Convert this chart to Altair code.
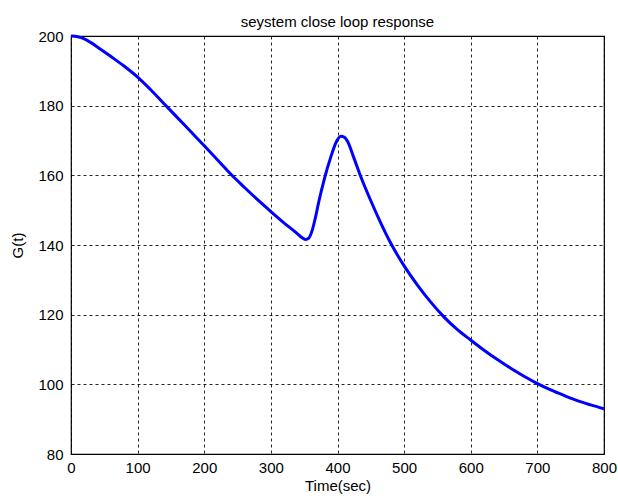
import altair as alt
import pandas as pd

t_vals = [0, 10, 20, 30, 40, 60, 80, 100, 120, 140, 160, 180, 200, 220, 240, 260, 280,
          300, 320, 340, 346, 352, 357, 362, 367, 372, 380, 390, 398, 405, 410, 415,
          425, 435, 450, 465, 480, 500, 520, 540, 560, 580, 600, 620, 640, 660,
          680, 700, 720, 740, 760, 780, 800]
g_vals = [200.0, 199.8, 199.2, 198.1, 196.8, 194.1, 191.3, 188.2, 184.5, 180.5, 176.5,
          172.5, 168.5, 164.4, 160.3, 156.6, 153.0, 149.6, 146.3, 143.2, 142.2, 141.6,
          142.0, 144.2, 148.0, 152.5, 158.8, 165.3, 169.5, 171.2, 171.0, 169.8,
          164.8, 159.6, 152.7, 146.3, 140.5, 134.0, 128.5, 123.6, 119.3, 115.7,
          112.7, 109.8, 107.1, 104.6, 102.3, 100.2, 98.4, 96.8, 95.3, 94.1, 93.0]

x_ticks = [0, 100, 200, 300, 400, 500, 600, 700, 800]
y_ticks = [80, 100, 120, 140, 160, 180, 200]

df = pd.DataFrame({"t": t_vals, "g": g_vals})

FONT = "Liberation Sans"

chart = alt.Chart(df).mark_line(color="#0000ff", strokeWidth=3, interpolate="monotone").encode(
    x=alt.X("t:Q", scale=alt.Scale(domain=[0, 800], nice=False, zero=False),
            axis=alt.Axis(values=x_ticks, title="Time(sec)", grid=True,
                          gridColor="#000000", gridDash=[3, 3], gridWidth=1, gridOpacity=0.85,
                          ticks=False, domain=False, labelPadding=6,
                          labelFont=FONT, labelFontSize=15, labelColor="#000000",
                          titleFont=FONT, titleFontSize=15, titleFontWeight="normal",
                          titleColor="#000000", titleBaseline="alphabetic", titleY=36,
                          labelFlush=False)),
    y=alt.Y("g:Q", scale=alt.Scale(domain=[80, 200], nice=False, zero=False),
            axis=alt.Axis(values=y_ticks, title="G(t)", grid=True,
                          gridColor="#000000", gridDash=[3, 3], gridWidth=1, gridOpacity=0.85,
                          ticks=False, domain=False, labelPadding=8,
                          labelFont=FONT, labelFontSize=15, labelColor="#000000",
                          titleFont=FONT, titleFontSize=15, titleFontWeight="normal",
                          titleColor="#000000", titleAngle=270, titleBaseline="middle",
                          titleX=-54, titleY=209, labelFlush=False)),
).properties(
    width=533, height=418,
    title=alt.TitleParams("seystem close loop response", font=FONT, fontSize=15,
                          fontWeight="normal", color="#000000", anchor="middle",
                          baseline="alphabetic", offset=10, dy=23),
    autosize=alt.AutoSizeParams(type="none"),
    padding={"left": 71, "top": 36, "right": 14, "bottom": 47},
    background="white",
).configure_view(stroke="#000000", strokeWidth=1.2)

chart.save("out.html", embed_options={"renderer": "svg", "actions": False})
